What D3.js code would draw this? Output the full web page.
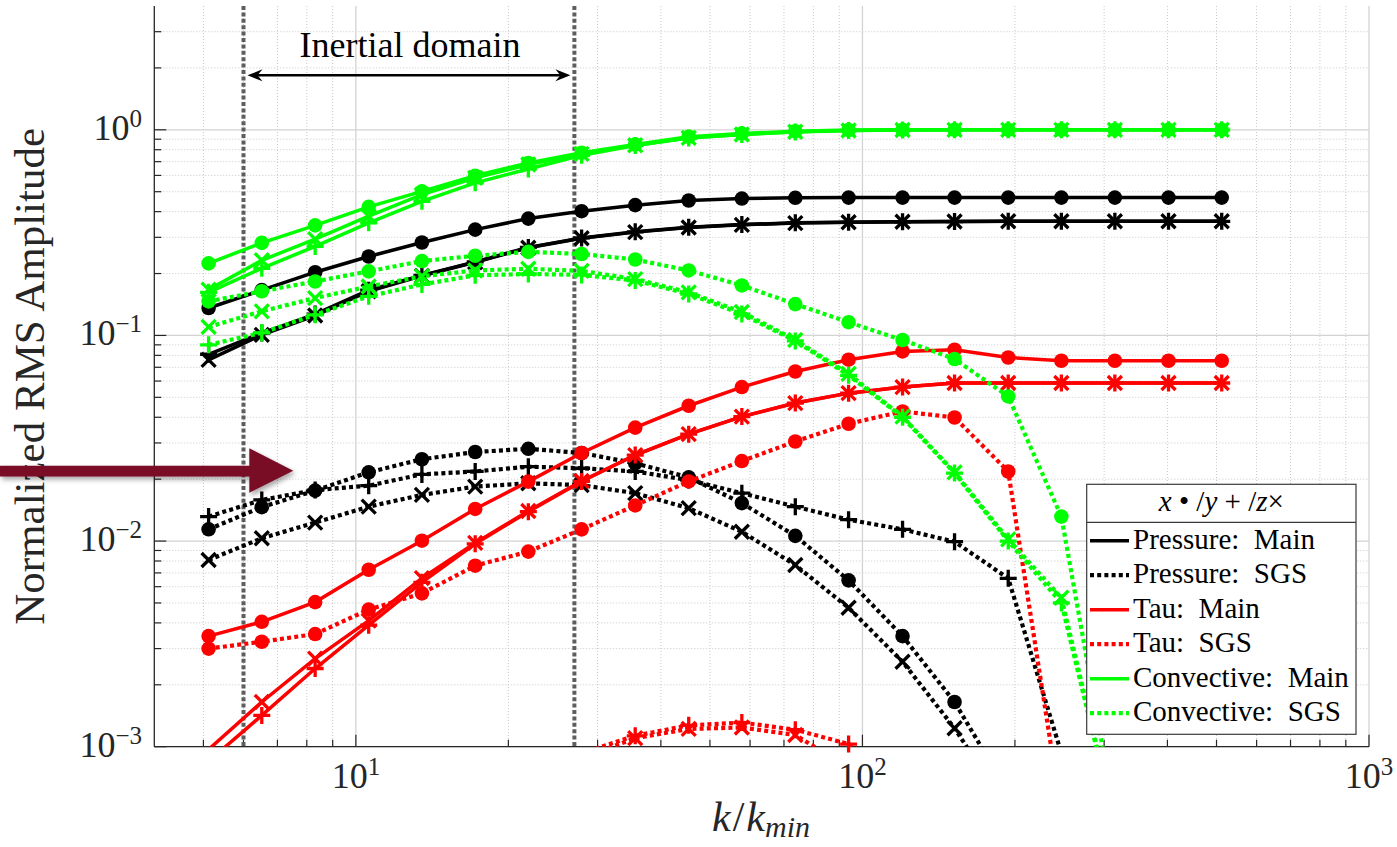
<!DOCTYPE html>
<html><head><meta charset="utf-8">
<script src="https://cdn.jsdelivr.net/npm/d3@7"></script>
<style>body{margin:0;background:#fff;} svg{display:block;}</style>
</head><body>
<svg id="c" width="1397" height="847"></svg>
<script>
// ---- data ----
const k = [5.12, 6.52, 8.31, 10.6, 13.5, 17.2, 21.9, 27.9, 35.6, 45.4, 57.8, 73.7, 93.9, 120, 152, 194, 247, 315, 402, 512];
const xTicksMajor = [10, 100, 1000];
const yTicksMajor = [1e-3, 1e-2, 1e-1, 1];
const xTickLabels = ["1", "2", "3"];
const yTickLabels = ["\u22123", "\u22122", "\u22121", "0"];
const inertialBounds = [6, 27];
const legendLabels = ["Pressure:  Main", "Pressure:  SGS", "Tau:  Main", "Tau:  SGS", "Convective:  Main", "Convective:  SGS"];

const pMainX = [0.136, 0.166, 0.203, 0.242, 0.283, 0.327, 0.370, 0.402, 0.430, 0.453, 0.463, 0.467, 0.468, 0.468, 0.468, 0.468, 0.468, 0.468, 0.468, 0.468];
const pMainY = [0.081, 0.1027, 0.127, 0.166, 0.196, 0.228, 0.268, 0.298, 0.319, 0.336, 0.346, 0.353, 0.355, 0.357, 0.358, 0.359, 0.359, 0.359, 0.359, 0.359];
const pMainZ = [0.076, 0.1007, 0.125, 0.164, 0.195, 0.227, 0.267, 0.297, 0.318, 0.335, 0.345, 0.352, 0.355, 0.357, 0.358, 0.359, 0.359, 0.359, 0.359, 0.359];
const pSgsX = [0.01141, 0.01462, 0.0176, 0.0216, 0.0250, 0.0271, 0.0281, 0.0268, 0.0239, 0.0204, 0.0153, 0.0106, 0.00644, 0.00345, 0.00165, 0.0006, null, null, null, null];
const pSgsY = [0.01315, 0.01585, 0.0177, 0.0186, 0.0211, 0.0218, 0.0230, 0.0226, 0.0218, 0.0198, 0.0171, 0.0147, 0.0127, 0.0114, 0.00993, 0.00659, 0.00093, null, null, null];
const pSgsZ = [0.00809, 0.01032, 0.0123, 0.0147, 0.01677, 0.0184, 0.0191, 0.0187, 0.0171, 0.01445, 0.0111, 0.00765, 0.00474, 0.00259, 0.00123, 0.00049, null, null, null, null];

const tMainX = [0.00345, 0.00405, 0.00505, 0.00725, 0.01004, 0.01433, 0.01946, 0.0268, 0.0356, 0.0455, 0.0561, 0.0668, 0.0762, 0.0836, 0.0852, 0.0781, 0.0753, 0.0753, 0.0753, 0.0753];
const tMainY = [0.00085, 0.00142, 0.0024, 0.0039, 0.0063, 0.0097, 0.0139, 0.0195, 0.0262, 0.0331, 0.0403, 0.0469, 0.0524, 0.0561, 0.0587, 0.0587, 0.0587, 0.0587, 0.0587, 0.0587];
const tMainZ = [0.00097, 0.00165, 0.00268, 0.0041, 0.0066, 0.0098, 0.0140, 0.0196, 0.0262, 0.0331, 0.0403, 0.0469, 0.0524, 0.0561, 0.0587, 0.0587, 0.0587, 0.0587, 0.0587, 0.0587];
const tSgsX = [0.0030, 0.00324, 0.00353, 0.00464, 0.00557, 0.00759, 0.00889, 0.0114, 0.0149, 0.0195, 0.0245, 0.0305, 0.0372, 0.0427, 0.0399, 0.0218, 0.00048, null, null, null];
const tSgsY = [null, null, null, null, null, null, null, 0.00093, 0.00113, 0.00127, 0.00131, 0.00121, 0.00103, 0.00070, null, null, null, null, null, null];
const tSgsZ = [null, null, null, null, null, null, null, 0.00088, 0.00110, 0.00122, 0.00124, 0.00114, 0.00079, null, null, null, null, null, null, null];

const cMainX = [0.224, 0.282, 0.343, 0.422, 0.502, 0.598, 0.690, 0.773, 0.848, 0.925, 0.959, 0.984, 0.998, 1.0, 1.0, 1.0, 1.0, 1.0, 1.0, 1.0];
const cMainY = [0.162, 0.212, 0.271, 0.353, 0.449, 0.552, 0.645, 0.752, 0.838, 0.912, 0.948, 0.977, 0.991, 0.998, 1.0, 1.0, 1.0, 1.0, 1.0, 1.0];
const cMainZ = [0.167, 0.232, 0.294, 0.380, 0.484, 0.584, 0.678, 0.764, 0.841, 0.914, 0.949, 0.978, 0.992, 0.998, 1.0, 1.0, 1.0, 1.0, 1.0, 1.0];
const cSgsX = [0.1465, 0.164, 0.183, 0.205, 0.230, 0.244, 0.255, 0.249, 0.234, 0.207, 0.175, 0.142, 0.116, 0.095, 0.0768, 0.0505, 0.01315, 0.00046, null, null];
const cSgsY = [0.090, 0.103, 0.126, 0.155, 0.177, 0.196, 0.199, 0.197, 0.185, 0.159, 0.127, 0.094, 0.064, 0.040, 0.0214, 0.0100, 0.0050, 0.00042, null, null];
const cSgsZ = [0.110, 0.131, 0.152, 0.173, 0.194, 0.207, 0.211, 0.206, 0.188, 0.162, 0.130, 0.095, 0.065, 0.0403, 0.0216, 0.0102, 0.0053, 0.00043, null, null];

// ---- layout ----
const W = 1397, H = 847;
const L = 154.3, R = 1369, T = 6, B = 746.7;
const FONT = "'Liberation Serif', 'Times New Roman', serif";
const x = d3.scaleLog().domain([4, 1000]).range([L, R]);
const y = d3.scaleLog().domain([1e-3, 4]).range([B, T]);

const groups = [
  {color: "#000000", main: [pMainX, pMainY, pMainZ], sgs: [pSgsX, pSgsY, pSgsZ]},
  {color: "#ff0000", main: [tMainX, tMainY, tMainZ], sgs: [tSgsX, tSgsY, tSgsZ]},
  {color: "#00ff00", main: [cMainX, cMainY, cMainZ], sgs: [cSgsX, cSgsY, cSgsZ]}
];
const markerTypes = ["circle", "plus", "cross"];
const DOT = "4,3.2";
const MAIN_W = 3.5, SGS_W = 4.2;

const svg = d3.select("#c");
svg.append("rect").attr("width", W).attr("height", H).attr("fill", "#fff");

const defs = svg.append("defs");
defs.append("clipPath").attr("id", "plotclip").append("rect")
  .attr("x", L).attr("y", T).attr("width", R - L).attr("height", B - T);
const f = defs.append("filter").attr("id", "shadow").attr("x", "-20%").attr("y", "-50%").attr("width", "140%").attr("height", "200%");
f.append("feDropShadow").attr("dx", 2).attr("dy", 3).attr("stdDeviation", 2.5).attr("flood-color", "#000").attr("flood-opacity", 0.35);

// ---- grid ----
const minorVals = (lo, hi) => {
  const out = [];
  for (let e = -4; e <= 3; e++) for (let m = 2; m <= 9; m++) {
    const v = m * Math.pow(10, e);
    if (v > lo * 1.0001 && v < hi * 0.9999) out.push(v);
  }
  return out;
};
const xMinor = minorVals(4, 1000);
const yMinor = minorVals(1e-3, 4);
const grid = svg.append("g");
grid.selectAll(".xm").data(xMinor).join("line")
  .attr("x1", d => x(d)).attr("x2", d => x(d)).attr("y1", T).attr("y2", B)
  .attr("stroke", "#c8c8c8").attr("stroke-width", 1).attr("stroke-dasharray", "1,2");
grid.selectAll(".ym").data(yMinor).join("line")
  .attr("y1", d => y(d)).attr("y2", d => y(d)).attr("x1", L).attr("x2", R)
  .attr("stroke", "#c8c8c8").attr("stroke-width", 1).attr("stroke-dasharray", "1,2");
grid.selectAll(".xM").data(xTicksMajor).join("line")
  .attr("x1", d => x(d)).attr("x2", d => x(d)).attr("y1", T).attr("y2", B)
  .attr("stroke", "#d3d3d3").attr("stroke-width", 1.3);
grid.selectAll(".yM").data(yTicksMajor).join("line")
  .attr("y1", d => y(d)).attr("y2", d => y(d)).attr("x1", L).attr("x2", R)
  .attr("stroke", "#d3d3d3").attr("stroke-width", 1.3);

// ---- axes (ticks inside) ----
const axG = svg.append("g").attr("stroke", "#262626");
axG.append("line").attr("x1", L).attr("x2", R).attr("y1", B).attr("y2", B).attr("stroke-width", 1.3);
axG.append("line").attr("x1", L).attr("x2", L).attr("y1", T).attr("y2", B).attr("stroke-width", 1.3);
axG.selectAll(".xt").data(xMinor.concat(xTicksMajor)).join("line")
  .attr("x1", d => x(d)).attr("x2", d => x(d)).attr("y1", B)
  .attr("y2", d => B - (xTicksMajor.includes(d) ? 12 : 7)).attr("stroke-width", 1.2);
axG.selectAll(".yt").data(yMinor.concat(yTicksMajor)).join("line")
  .attr("y1", d => y(d)).attr("y2", d => y(d)).attr("x1", L)
  .attr("x2", d => L + (yTicksMajor.includes(d) ? 12 : 7)).attr("stroke-width", 1.2);

// tick labels
const yl = svg.append("g").attr("font-family", FONT).attr("fill", "#262626");
yTicksMajor.forEach((v, i) => {
  const t = yl.append("text").attr("x", 142).attr("y", y(v) + 10).attr("text-anchor", "end").attr("font-size", 36);
  t.append("tspan").text("10");
  t.append("tspan").attr("dy", -13).attr("font-size", 25).text(yTickLabels[i]);
});
xTicksMajor.forEach((v, i) => {
  const t = yl.append("text").attr("x", x(v)).attr("y", 788).attr("text-anchor", "middle").attr("font-size", 36);
  t.append("tspan").text("10");
  t.append("tspan").attr("dy", -13).attr("font-size", 25).text(xTickLabels[i]);
});

// axis titles
svg.append("text").attr("transform", `translate(44,${(T + B) / 2 + 0}) rotate(-90)`)
  .attr("text-anchor", "middle").attr("font-family", FONT).attr("font-size", 43).attr("fill", "#262626")
  .text("Normalized RMS Amplitude");
const xt = svg.append("text").attr("x", 761).attr("y", 831).attr("text-anchor", "middle")
  .attr("font-family", FONT).attr("font-size", 42).attr("fill", "#262626").attr("font-style", "italic");
xt.append("tspan").text("k");
xt.append("tspan").attr("font-style", "normal").attr("dx", 2).text("/");
xt.append("tspan").attr("dx", 2).text("k");
xt.append("tspan").attr("dy", 6).attr("font-size", 30).text("min");

// ---- inertial domain annotation ----
const ann = svg.append("g");
ann.selectAll("line.vd").data(inertialBounds).join("line")
  .attr("x1", d => x(d)).attr("x2", d => x(d)).attr("y1", T).attr("y2", B)
  .attr("stroke", "#5e5e5e").attr("stroke-width", 4).attr("stroke-dasharray", "4,2.4");
const ax0 = x(inertialBounds[0]) + 4, ax1 = x(inertialBounds[1]) - 4, ay = 75.3;
ann.append("line").attr("x1", ax0 + 6).attr("x2", ax1 - 6).attr("y1", ay).attr("y2", ay)
  .attr("stroke", "#000").attr("stroke-width", 2.6);
ann.append("path").attr("d", `M${ax0},${ay}L${ax0 + 15},${ay - 6}L${ax0 + 10},${ay}L${ax0 + 15},${ay + 6}Z`).attr("fill", "#000");
ann.append("path").attr("d", `M${ax1},${ay}L${ax1 - 15},${ay - 6}L${ax1 - 10},${ay}L${ax1 - 15},${ay + 6}Z`).attr("fill", "#000");
ann.append("text").attr("x", 410).attr("y", 57).attr("text-anchor", "middle")
  .attr("font-family", FONT).attr("font-size", 36).attr("fill", "#000").text("Inertial domain");

// ---- series ----
const line = d3.line().defined(d => d[1] != null).x(d => x(d[0])).y(d => y(d[1]));
const plot = svg.append("g");
function drawMarker(g, type, cx, cy, color) {
  if (type === "circle") {
    g.append("circle").attr("cx", cx).attr("cy", cy).attr("r", 7.3).attr("fill", color);
  } else if (type === "plus") {
    g.append("path").attr("d", `M${cx - 8.5},${cy}H${cx + 8.5}M${cx},${cy - 8.5}V${cy + 8.5}`)
      .attr("stroke", color).attr("stroke-width", 3.3).attr("fill", "none");
  } else {
    g.append("path").attr("d", `M${cx - 7},${cy - 7}L${cx + 7},${cy + 7}M${cx - 7},${cy + 7}L${cx + 7},${cy - 7}`)
      .attr("stroke", color).attr("stroke-width", 3.3).attr("fill", "none");
  }
}
groups.forEach(gr => {
  [["main", null], ["sgs", DOT]].forEach(([part, dash]) => {
    gr[part].forEach((vals, ci) => {
      const pts = k.map((kv, i) => [kv, vals[i]]);
      const g = plot.append("g");
      g.append("path").attr("d", line(pts)).attr("fill", "none").attr("stroke", gr.color)
        .attr("stroke-width", part === "main" ? MAIN_W : SGS_W)
        .attr("stroke-dasharray", dash).attr("clip-path", "url(#plotclip)");
      pts.forEach(p => {
        if (p[1] != null && p[1] >= 1e-3 && p[1] <= 4) drawMarker(g, markerTypes[ci], x(p[0]), y(p[1]), gr.color);
      });
    });
  });
});

// ---- legend ----
const lg = svg.append("g");
const lx0 = 1086.7, lx1 = 1356, ly0 = 484.3, ly1 = 734.3, lsep = 522.3;
lg.append("rect").attr("x", lx0).attr("y", ly0).attr("width", lx1 - lx0).attr("height", ly1 - ly0)
  .attr("fill", "#fff").attr("stroke", "#3a3a3a").attr("stroke-width", 1.2);
lg.append("line").attr("x1", lx0).attr("x2", lx1).attr("y1", lsep).attr("y2", lsep).attr("stroke", "#3a3a3a").attr("stroke-width", 1.2);
const tt = lg.append("text").attr("x", (lx0 + lx1) / 2).attr("y", 511).attr("text-anchor", "middle")
  .attr("font-family", FONT).attr("font-size", 29).attr("fill", "#000").attr("xml:space", "preserve");
tt.append("tspan").attr("font-style", "italic").text("x");
tt.append("tspan").text(" \u2022 /");
tt.append("tspan").attr("font-style", "italic").text("y");
tt.append("tspan").text(" + /");
tt.append("tspan").attr("font-style", "italic").text("z");
tt.append("tspan").text("\u00d7");
const legendItems = [];
groups.forEach(gr => { legendItems.push({color: gr.color, dash: null}); legendItems.push({color: gr.color, dash: DOT}); });
legendItems.forEach((it, i) => {
  const ly = 540.7 + i * 34.5;
  lg.append("line").attr("x1", 1090).attr("x2", 1129).attr("y1", ly).attr("y2", ly)
    .attr("stroke", it.color).attr("stroke-width", it.dash ? SGS_W : MAIN_W).attr("stroke-dasharray", it.dash);
  lg.append("text").attr("x", 1133).attr("y", ly + 8).attr("font-family", FONT).attr("font-size", 29)
    .attr("fill", "#000").attr("xml:space", "preserve").text(legendLabels[i]);
});

// ---- maroon pointer arrow ----
svg.append("path")
  .attr("d", "M0,465.7L249.3,465.7L249.3,448.3L293.3,470.8L249.3,492.7L249.3,476.5L0,476.5Z")
  .attr("fill", "#7a0b25").attr("filter", "url(#shadow)");
</script>
</body></html>
